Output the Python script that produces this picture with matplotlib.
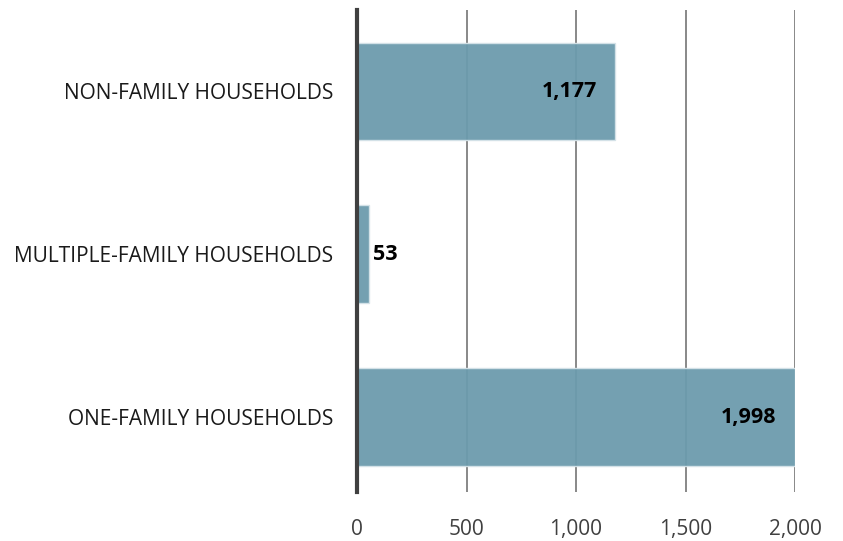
import matplotlib
matplotlib.use("Agg")
import matplotlib.pyplot as plt

categories = ["ONE-FAMILY HOUSEHOLDS", "MULTIPLE-FAMILY HOUSEHOLDS", "NON-FAMILY HOUSEHOLDS"]
values = [1998, 53, 1177]
xticks = [0, 500, 1000, 1500, 2000]
xticklabels = ["0", "500", "1,000", "1,500", "2,000"]

plt.rcParams['font.family'] = ['Open Sans', 'DejaVu Sans']

fig = plt.figure(figsize=(8.43, 5.41), dpi=100)
ax = fig.add_axes([357/843, 1-492/541, (795-357)/843, (492-10)/541])

ypos = list(range(len(categories)))
ax.barh(ypos, values, height=0.6, color='#6C9BAD', alpha=0.95,
        edgecolor='#D5E3E8', linewidth=1.0, zorder=3)

ax.set_xlim(0, 2000)
ax.set_ylim(-0.46, 2.5)
ax.set_xticks(xticks)
ax.set_xticklabels(xticklabels, fontsize=15, color='#404040')
ax.set_yticks(ypos)
ax.set_yticklabels(categories, fontsize=15, color='#1a1a1a')
ax.tick_params(axis='x', length=0, pad=19.5)
ax.tick_params(axis='y', length=0, pad=17)

for x in xticks[1:]:
    ax.axvline(x, color='#7F7F7F', linewidth=1.3, zorder=2)

for s in ['top', 'right', 'bottom']:
    ax.spines[s].set_visible(False)
ax.spines['left'].set_color('#404040')
ax.spines['left'].set_linewidth(3)
ax.spines['left'].set_zorder(5)

for y, v in zip(ypos, values):
    lab = f"{v:,}"
    if v > 200:
        ax.annotate(lab, (v, y), xytext=(-13, 0), textcoords='offset points',
                    ha='right', va='center', fontsize=15.5, fontweight='bold',
                    color='black', zorder=6)
    else:
        ax.annotate(lab, (v, y), xytext=(3, 0), textcoords='offset points',
                    ha='left', va='center', fontsize=15.5, fontweight='bold',
                    color='black', zorder=6)

fig.savefig("out.png", dpi=100)
